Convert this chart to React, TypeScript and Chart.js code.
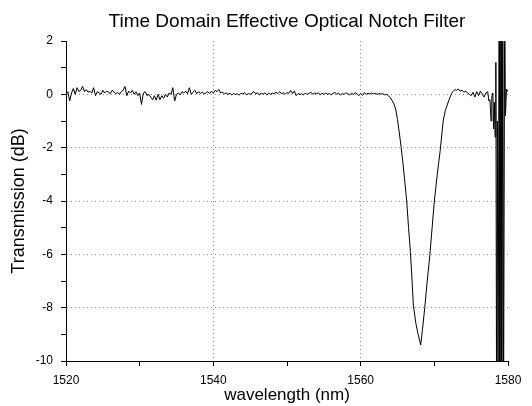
import React, { useEffect, useRef } from 'react';
import { Chart, registerables } from 'chart.js';

Chart.register(...registerables);

const chartTitle = 'Time Domain Effective Optical Notch Filter';
const xTitle = 'wavelength (nm)';
const yTitle = 'Transmission (dB)';

const xMin = 1520;
const xMax = 1580;
const yMin = -10;
const yMax = 2;
const xLabelTicks = [1520, 1540, 1560, 1580];
const yLabelTicks = [2, 0, -2, -4, -6, -8, -10];
const xGridValues = [1540, 1560];
const yGridValues = [0, -2, -4, -6, -8];

// Flat passband: sampled from 1520 nm every 0.25 nm (one row per nm)
const flatStart = 1520;
const flatStep = 0.25;
const flatTransmission = [
  0.00, 0.10, -0.25, 0.05,
  0.22, 0.00, 0.25, 0.10,
  0.15, 0.30, 0.10, 0.18,
  0.08, 0.12, 0.05, 0.25,
  -0.05, 0.10, 0.05, 0.00,
  0.15, 0.05, 0.12, 0.08,
  0.02, 0.15, 0.10, 0.02,
  0.08, 0.00, 0.10, 0.15,
  0.30, -0.05, 0.12, 0.05,
  0.15, 0.00, 0.10, -0.05,
  0.05, -0.38, 0.05, 0.10,
  -0.05, 0.00, -0.10, -0.20,
  -0.05, -0.22, 0.00, -0.20,
  -0.05, -0.15, 0.00, -0.10,
  0.05, 0.00, 0.25, -0.25,
  0.00, 0.05, -0.02, 0.10,
  0.05, 0.12, 0.02, 0.25,
  0.00, 0.08, 0.15, 0.02,
  0.10, 0.04, 0.08, 0.02,
  0.05, 0.10, 0.03, 0.12,
  0.05, 0.15, 0.10, 0.18,
  0.05, 0.08, 0.02, 0.05,
  0.00, 0.04, -0.02, 0.03,
  0.00, 0.02, -0.03, 0.04,
  0.02, 0.06, -0.02, 0.03,
  0.00, 0.05, 0.10, 0.02,
  0.06, -0.03, 0.05, 0.00,
  0.06, -0.02, 0.04, 0.00,
  0.05, 0.02, 0.08, 0.03,
  0.10, 0.02, 0.06, 0.00,
  0.07, 0.04, 0.15, 0.03,
  0.12, -0.05, 0.03, 0.00,
  0.02, -0.02, 0.05, 0.00,
  0.04, 0.08, 0.00, 0.05,
  0.02, 0.06, -0.02, 0.04,
  0.00, 0.05, 0.01, 0.03,
  -0.02, 0.04, 0.08, 0.00,
  0.05, -0.03, 0.03, 0.00,
  0.06, 0.02, -0.02, 0.04,
  0.00, 0.06, 0.02, -0.05,
  0.03, -0.04, 0.06, 0.00,
  0.04, 0.01, 0.05, 0.02,
  0.04, 0.00, 0.03, 0.01,
];

// Notch region
const notchWavelength = [
  1563.00, 1563.25, 1563.50, 1563.75, 1564.00, 1564.25, 1564.50, 1564.75,
  1565.00, 1565.25, 1565.50, 1565.75, 1566.00, 1566.25, 1566.50, 1566.75,
  1567.00, 1567.15, 1567.50, 1567.80, 1568.15, 1568.40, 1568.70, 1569.00,
  1569.40, 1569.70, 1570.00, 1570.40, 1570.80, 1571.20, 1571.50, 1571.75,
  1572.00, 1572.35, 1572.60, 1572.80,
];
const notchTransmission = [
  0.02, -0.02, 0.00, -0.05, -0.12, -0.22, -0.35, -0.55,
  -0.95, -1.45, -2.00, -2.60, -3.30, -4.00, -5.00, -5.90,
  -7.10, -7.90, -8.60, -9.00, -9.40, -8.80, -8.00, -7.10,
  -6.00, -5.00, -4.00, -3.00, -2.10, -1.00, -0.60, -0.40,
  -0.20, 0.04, 0.12, 0.18,
];

// Upper band edge and unstable end of the record
const edgeWavelength = [
  1573.00, 1573.25, 1573.50, 1573.75, 1574.00, 1574.25, 1574.50, 1574.75,
  1575.00, 1575.25, 1575.50, 1575.75, 1576.00, 1576.25, 1576.50, 1576.75,
  1577.00, 1577.25, 1577.40, 1577.55, 1577.70, 1577.80, 1577.95, 1578.05,
  1578.15, 1578.25, 1578.35, 1578.45, 1578.55, 1578.65, 1578.80, 1578.90,
  1579.05, 1579.15, 1579.30, 1579.40, 1579.55, 1579.65, 1579.80, 1580.00,
];
const edgeTransmission = [
  0.15, 0.20, 0.12, 0.16, 0.08, 0.12, 0.05, 0.00,
  -0.05, 0.08, -0.10, 0.10, -0.05, 0.12, 0.00, -0.10,
  0.05, 0.10, -0.25, -0.20, -1.00, -0.10, 0.05, -1.30,
  -0.30, -1.60, 1.20, -12.00, -1.00, -12.00, 4.00, -12.00,
  4.00, -12.00, 4.00, -12.00, 4.00, -0.80, 0.20, 0.10,
];

const FONT = '"Liberation Sans", Arial, Helvetica, sans-serif';

const titlePlugin = {
  id: 'customTitle',
  afterDraw(chart: any) {
    const { ctx, chartArea } = chart;
    ctx.save();
    ctx.font = `19px ${FONT}`;
    ctx.fillStyle = '#000';
    ctx.textAlign = 'center';
    ctx.textBaseline = 'alphabetic';
    ctx.fillText(chartTitle, (chartArea.left + chartArea.right) / 2, 27);
    ctx.restore();
  },
};

export default function App() {
  const canvasRef = useRef<HTMLCanvasElement | null>(null);

  useEffect(() => {
    document.body.style.margin = '0';
    const canvas = canvasRef.current;
    if (!canvas) return;

    const points: { x: number; y: number }[] = [];
    flatTransmission.forEach((v, i) => points.push({ x: flatStart + i * flatStep, y: v }));
    notchWavelength.forEach((w, i) => points.push({ x: w, y: notchTransmission[i] }));
    edgeWavelength.forEach((w, i) => points.push({ x: w, y: edgeTransmission[i] }));

    const chart = new Chart(canvas, {
      type: 'line',
      data: {
        datasets: [
          {
            data: points,
            borderColor: '#000',
            borderWidth: 1,
            pointRadius: 0,
            fill: false,
            tension: 0,
          },
        ],
      },
      plugins: [titlePlugin],
      options: {
        animation: false,
        responsive: false,
        events: [],
        layout: { padding: { top: 41, right: 24, bottom: 0, left: 0 } },
        plugins: {
          legend: { display: false },
          title: { display: false },
          tooltip: { enabled: false },
        },
        scales: {
          x: {
            type: 'linear',
            min: xMin,
            max: xMax,
            afterFit: (s: any) => {
              s.height = 45;
            },
            ticks: {
              stepSize: 10,
              autoSkip: false,
              maxRotation: 0,
              padding: 7,
              color: '#000',
              font: { family: FONT, size: 12 },
              callback: (v: any) => (xLabelTicks.includes(Number(v)) ? String(v) : ''),
            },
            grid: {
              color: (c: any) => (xGridValues.includes(c.tick?.value) ? '#8a8a8a' : 'transparent'),
              lineWidth: 1,
              tickColor: '#000',
              tickLength: 5,
              tickBorderDash: [],
            },
            border: { display: true, color: '#000', width: 1, dash: [1, 3] },
            title: {
              display: true,
              text: xTitle,
              color: '#000',
              font: { family: FONT, size: 17 },
              padding: { top: 0, bottom: 0 },
            },
          },
          y: {
            type: 'linear',
            min: yMin,
            max: yMax,
            afterFit: (s: any) => {
              s.width = 66;
            },
            ticks: {
              stepSize: 1,
              autoSkip: false,
              padding: 8,
              color: '#000',
              font: { family: FONT, size: 12 },
              callback: (v: any) => (yLabelTicks.includes(Number(v)) ? String(v) : ''),
            },
            grid: {
              color: (c: any) => (yGridValues.includes(c.tick?.value) ? '#8a8a8a' : 'transparent'),
              lineWidth: 1,
              tickColor: '#000',
              tickLength: 5,
              tickBorderDash: [],
            },
            border: { display: true, color: '#000', width: 1, dash: [1, 3] },
            title: {
              display: true,
              text: yTitle,
              color: '#000',
              font: { family: FONT, size: 18 },
              padding: { top: 8, bottom: 0 },
            },
          },
        },
      },
    } as any);

    return () => {
      chart.destroy();
    };
  }, []);

  return (
    <div style={{ position: 'absolute', left: 0, top: 0, width: 532, height: 406 }}>
      <canvas ref={canvasRef} width={532} height={406} style={{ display: 'block' }} />
    </div>
  );
}
